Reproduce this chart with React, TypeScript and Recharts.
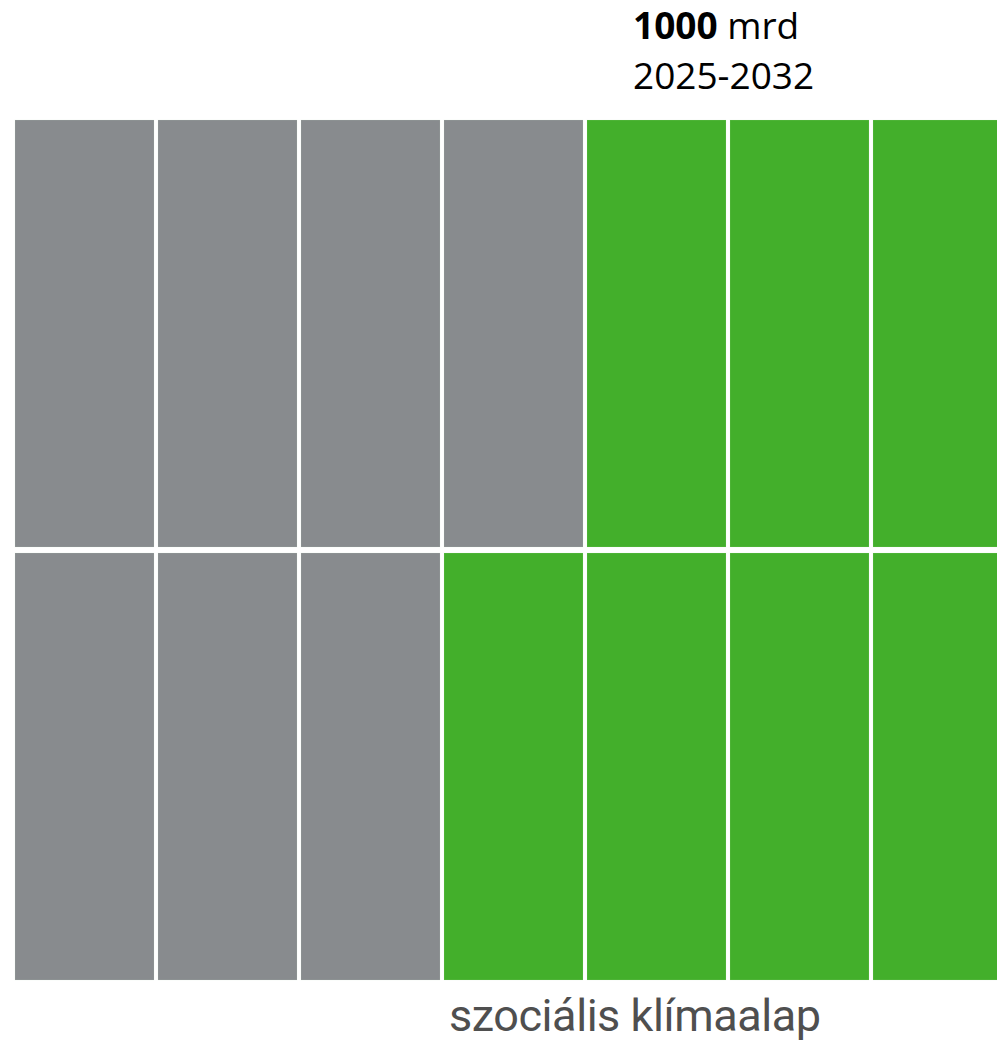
import { BarChart, Bar, XAxis, YAxis, Cell } from "recharts";

// 7 columns, 2 rows; each cell is one unit
const columns = ["1", "2", "3", "4", "5", "6", "7"];
const bottomRow = [1, 1, 1, 1, 1, 1, 1];
const topRow = [1, 1, 1, 1, 1, 1, 1];
// which cells belong to "szociális klímaalap"
const bottomIsFund = [false, false, false, true, true, true, true];
const topIsFund = [false, false, false, false, true, true, true];

const GRAY = "#888b8e";
const GREEN = "#43af2b";

const data = columns.map((c, i) => ({ col: c, bottom: bottomRow[i], top: topRow[i] }));

const CellShape = (props: any) => {
  const { x, y, width, height, fill } = props;
  return <rect x={x + 2} y={y + 3} width={width - 4} height={height - 6} fill={fill} stroke="#cfe8c8" strokeOpacity={0.25} strokeWidth={0.6} />;
};

export default function App() {
  return (
    <div style={{ position: "absolute", left: 0, top: 0, width: 997, height: 1043, overflow: "hidden", background: "#fff" }}>
      <BarChart
        width={1016}
        height={1043}
        data={data}
        margin={{ top: 117, right: 2, bottom: 60, left: 13 }}
        barCategoryGap={0}
        barGap={0}
      >
        <XAxis dataKey="col" hide />
        <YAxis hide domain={[0, 2]} />
        <Bar dataKey="bottom" stackId="a" shape={<CellShape />} isAnimationActive={false}>
          {data.map((d, i) => (
            <Cell key={`b-${i}`} fill={bottomIsFund[i] ? GREEN : GRAY} />
          ))}
        </Bar>
        <Bar dataKey="top" stackId="a" shape={<CellShape />} isAnimationActive={false}>
          {data.map((d, i) => (
            <Cell key={`t-${i}`} fill={topIsFund[i] ? GREEN : GRAY} />
          ))}
        </Bar>
      </BarChart>
      <div style={{ position: "absolute", left: 633, top: 0, fontFamily: "'Open Sans', sans-serif", fontSize: 37, lineHeight: "50px", color: "#000", whiteSpace: "nowrap" }}>
        <div><b>1000</b> mrd</div>
        <div>2025-2032</div>
      </div>
      <svg style={{ position: "absolute", left: 0, top: 980 }} width={997} height={63}>
        <text x={449} y={51} fontFamily="Roboto, sans-serif" fontSize={45} fill="#4f4f4f" textLength={372} lengthAdjust="spacing">
          szociális klímaalap
        </text>
      </svg>
    </div>
  );
}
